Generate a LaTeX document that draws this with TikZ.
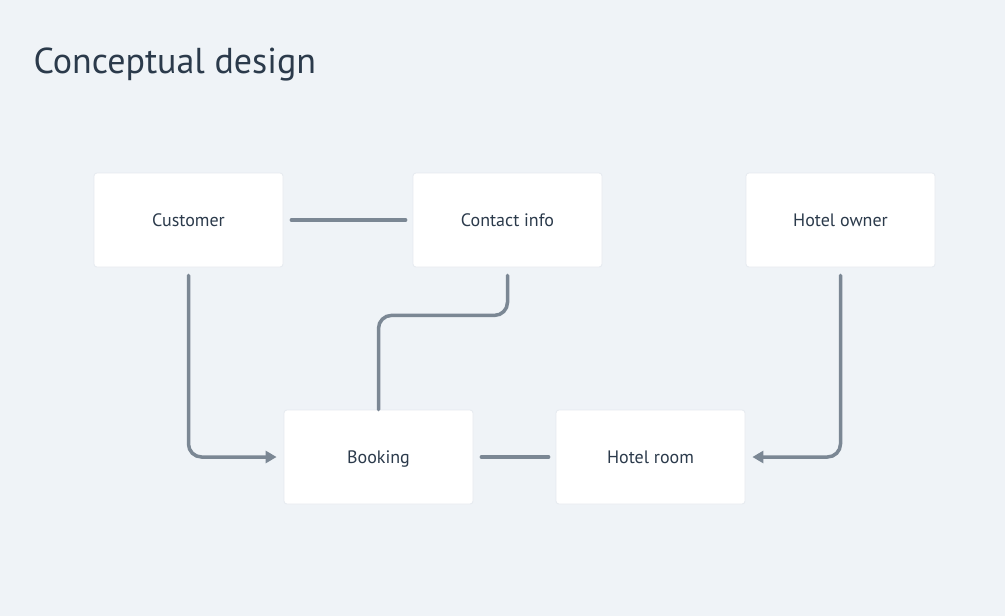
\documentclass[tikz,border=0pt]{standalone}
\usepackage{fontspec}
\setmainfont{PT Sans}
\usetikzlibrary{arrows.meta,positioning,calc}
\definecolor{bgcol}{HTML}{EFF3F7}
\definecolor{linkcol}{HTML}{7B8794}
\definecolor{textcol}{HTML}{2B3A4B}
\definecolor{edgecol}{HTML}{E6EAEF}
\tikzset{
  entity/.style={draw=edgecol,line width=0.8pt,fill=white,rounded corners=3pt,
    minimum width=189pt,minimum height=94pt,inner sep=0pt,
    text height=14pt,text depth=2pt,
    text=textcol,font=\fontsize{18}{21}\selectfont},
  link/.style={draw=linkcol,line width=3.5pt,line cap=round,rounded corners=13pt,
    shorten <=8pt,shorten >=7pt},
  tip/.style={-{Triangle[length=11pt,width=12pt]}}
}
\begin{document}
\begin{tikzpicture}[x=1pt,y=-1pt]
  \fill[bgcol] (0,0) rectangle (1005,616);
  \useasboundingbox (0,0) rectangle (1005,616);

  \node[anchor=base west,text=textcol,font=\fontsize{36}{42}\selectfont] (title) at (30,73) {Conceptual design};

  \node[entity] (cust) at (188.5,220) {Customer};
  \node[entity] (cont) at (507.5,220) {Contact info};
  \node[entity] (owner) at (840.5,220) {Hotel owner};
  \node[entity] (book) at (378.5,457) {Booking};
  \node[entity] (room) at (650.5,457) {Hotel room};

  \draw[link] (cust.east) -- (cont.west);
  \draw[link] (book.east) -- (room.west);
  \draw[link,tip] (cust.south) |- (book.west);
  \draw[link,tip] (owner.south) |- (room.east);
  \draw[link,shorten >=0pt] (cont.south) -- ++(0,48) -| (book.north);
\end{tikzpicture}
\end{document}
